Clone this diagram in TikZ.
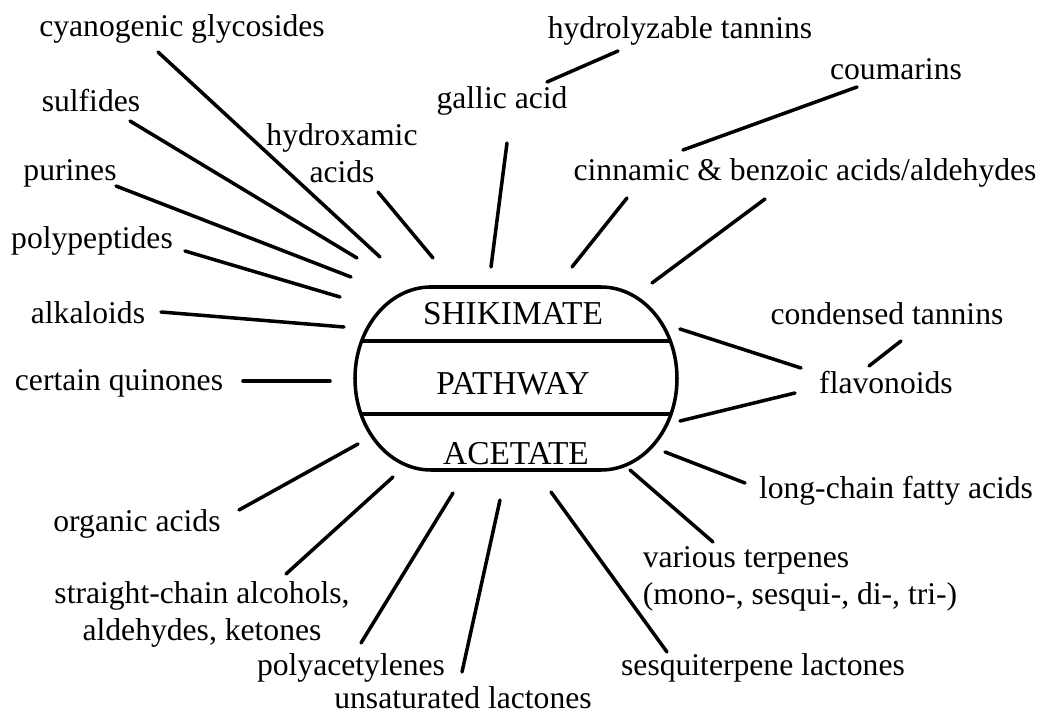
\documentclass[tikz,border=0pt]{standalone}
\usepackage{fontspec}
\setmainfont{Liberation Serif}

\begin{document}
\begin{tikzpicture}[x=0.02cm, y=-0.02cm,
    lbl/.style={inner sep=0pt, font=\fontsize{18}{21}\selectfont},
    spoke/.style={line width=2pt, line cap=round}]

  % Page frame (reference proportions)
  \useasboundingbox (0,0) rectangle (1046,713);

  % Central pathway outline and its two dividers
  \draw[line width=2pt] (431,287) -- (601,287)
    arc[start angle=-90, end angle=90, x radius=76, y radius=91.5]
    -- (431,470)
    arc[start angle=90, end angle=270, x radius=76, y radius=91.5] -- cycle;
  \coordinate (div1-l) at (362,341);
  \coordinate (div1-r) at (670,341);
  \coordinate (div2-l) at (361,414);
  \coordinate (div2-r) at (671,414);
  \draw[line width=2pt] (div1-l) -- (div1-r);
  \draw[line width=2pt] (div2-l) -- (div2-r);

  % Texts inside the outline
  \node[lbl, font=\fontsize{19}{22}\selectfont] (shikimate) at (513,314) {SHIKIMATE};
  \node[lbl, font=\fontsize{19}{22}\selectfont] (pathway)   at (513,384) {PATHWAY};
  \node[lbl, font=\fontsize{19}{22}\selectfont] (acetate)   at (516,454) {ACETATE};

  % Products, left side
  \node[lbl] (cyano)    at (182,29)  {cyanogenic glycosides};
  \node[lbl] (sulf)     at (91,101)  {sulfides};
  \node[lbl] (purin)    at (70,173)  {purines};
  \node[lbl] (polypep)  at (92,241)  {polypeptides};
  \node[lbl] (alkal)    at (88,313)  {alkaloids};
  \node[lbl] (quinon)   at (119,383) {certain quinones};
  \node[lbl] (organic)  at (137,524) {organic acids};
  \node[lbl, align=center] (straight) at (202,614) {straight-chain alcohols,\\aldehydes, ketones};
  \node[lbl] (polyac)   at (351,668) {polyacetylenes};
  \node[lbl] (unsat)    at (463,698) {unsaturated lactones};
  \node[lbl, align=center] (hydrox) at (342,153) {hydroxamic\\acids};

  % Products, right side
  \node[lbl] (gallic)   at (502,101) {gallic acid};
  \node[lbl] (hydrol)   at (680,31)  {hydrolyzable tannins};
  \node[lbl] (couma)    at (896,69)  {coumarins};
  \node[lbl] (cinnam)   at (805,173) {cinnamic \& benzoic acids/aldehydes};
  \node[lbl] (conden)   at (887,314) {condensed tannins};
  \node[lbl] (flavon)   at (886,383) {flavonoids};
  \node[lbl] (longch)   at (896,491) {long-chain fatty acids};
  \node[lbl, align=left] (terpen) at (800,579) {various terpenes\\(mono-, sesqui-, di-, tri-)};
  \node[lbl] (sesqui)   at (763,668) {sesquiterpene lactones};

  % End points of the spokes (a = inner end, b = outer end)
  \foreach \n/\ax/\ay/\bx/\by in {
      cyano/380/257/158/52, sulf/357/258/130/121, purin/351/277/116/186,
      polypep/340/297/185/251, alkal/344/327/161/312, quinon/330/381/243/381,
      organic/358/444/239/510, straight/393/477/286/574, polyac/453/493/361/643,
      unsat/500/500/462/672, sesqui/551/492/667/652, terpen/630/470/713/542,
      longch/665/452/745/483, flavlo/680/421/795/393, flavup/680/329/801/368,
      conden/869/366/901/341, cinnr/652/283/765/199, cinnl/572/267/627/198,
      couma/683/150/857/87, gallic/491/267/507/143, hydrol/547/82/618/51,
      hydrox/433/258/378/192}{
    \coordinate (\n-a) at (\ax,\ay);
    \coordinate (\n-b) at (\bx,\by);
  }

  % Spokes
  \foreach \n in {cyano, sulf, purin, polypep, alkal, quinon, organic, straight,
      polyac, unsat, sesqui, terpen, longch, flavlo, flavup, conden, cinnr,
      cinnl, couma, gallic, hydrol, hydrox}
    \draw[spoke] (\n-a) -- (\n-b);

\end{tikzpicture}
\end{document}
